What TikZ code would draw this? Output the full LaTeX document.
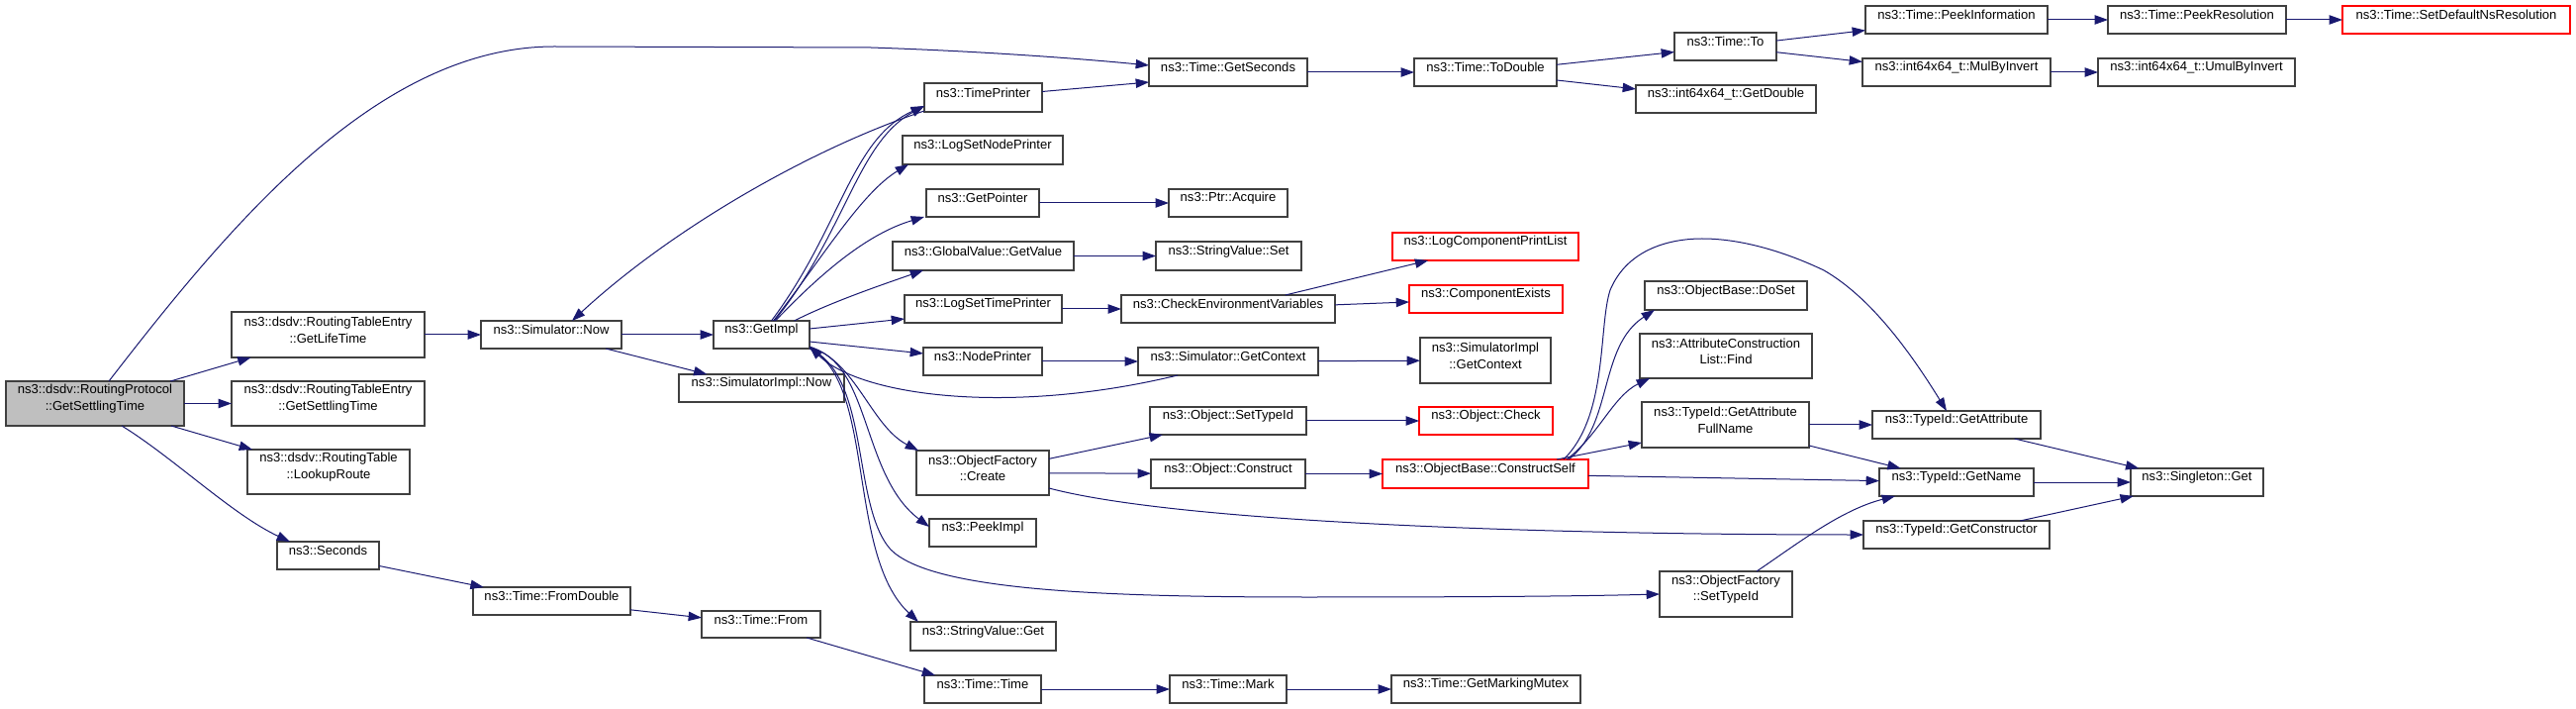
\documentclass[tikz,border=0pt]{standalone}
\usepackage{fontspec}
\setmainfont{Liberation Sans}
\usetikzlibrary{arrows.meta,fit,calc}
\definecolor{edgec}{HTML}{191970}
\definecolor{boxc}{HTML}{404040}
\definecolor{rootgray}{HTML}{BFBFBF}
\definecolor{redc}{HTML}{FF0000}
\newcommand\nbox[7][]{\node[box,#1,fit={(#3,#4)(#5,#6)}] (#2) {#7};}
\begin{document}
\begin{tikzpicture}[x=0.75pt,y=-0.75pt,
  box/.style={draw=boxc, line width=0.8pt, fill=white, inner sep=0pt, outer sep=0pt, align=center, font=\fontsize{9.8}{12.5}\selectfont},
  redbox/.style={draw=redc},
  rootbox/.style={fill=rootgray},
  edge/.style={draw=edgec, line width=0.75pt, -{Triangle[length=10pt,width=7pt]}}]
\useasboundingbox (0,0) rectangle (2603,716);
% nodes
\nbox[rootbox]{root}{6}{385}{186}{430}{ns3::dsdv::RoutingProtocol\\::GetSettlingTime}
\nbox{lifetime}{234}{315}{429}{361}{ns3::dsdv::RoutingTableEntry\\::GetLifeTime}
\nbox{rtesettle}{234}{385}{429}{430}{ns3::dsdv::RoutingTableEntry\\::GetSettlingTime}
\nbox{lookup}{250}{454}{414}{499}{ns3::dsdv::RoutingTable\\::LookupRoute}
\nbox{seconds}{280}{547}{383}{575}{ns3::Seconds}
\nbox{now}{486}{324}{628}{352}{ns3::Simulator::Now}
\nbox{getimpl}{721}{324}{818}{352}{ns3::GetImpl}
\nbox{simimplnow}{686}{378}{853}{406}{ns3::SimulatorImpl::Now}
\nbox{fromdouble}{478}{593}{637}{621}{ns3::Time::FromDouble}
\nbox{timefrom}{709}{617}{829}{644}{ns3::Time::From}
\nbox{getseconds}{1161}{59}{1321}{87}{ns3::Time::GetSeconds}
\nbox{timeprinter}{934}{84}{1053}{113}{ns3::TimePrinter}
\nbox{logsetnode}{912}{137}{1074}{166}{ns3::LogSetNodePrinter}
\nbox{getpointer}{936}{191}{1050}{219}{ns3::GetPointer}
\nbox{acquire}{1181}{191}{1301}{219}{ns3::Ptr::Acquire}
\nbox{getvalue}{902}{244}{1085}{273}{ns3::GlobalValue::GetValue}
\nbox{strset}{1168}{244}{1315}{273}{ns3::StringValue::Set}
\nbox{logsettime}{914}{298}{1073}{326}{ns3::LogSetTimePrinter}
\nbox{checkenv}{1133}{298}{1349}{326}{ns3::CheckEnvironmentVariables}
\nbox{nodeprinter}{933}{351}{1053}{379}{ns3::NodePrinter}
\nbox{simctx}{1150}{351}{1332}{379}{ns3::Simulator::GetContext}
\nbox{create}{926}{455}{1060}{500}{ns3::ObjectFactory\\::Create}
\nbox{peekimpl}{939}{524}{1047}{552}{ns3::PeekImpl}
\nbox{strget}{920}{628}{1067}{657}{ns3::StringValue::Get}
\nbox{timetime}{934}{682}{1052}{710}{ns3::Time::Time}
\nbox{objsettype}{1162}{411}{1320}{439}{ns3::Object::SetTypeId}
\nbox{objconstruct}{1163}{464}{1319}{493}{ns3::Object::Construct}
\nbox{timemark}{1182}{682}{1300}{710}{ns3::Time::Mark}
\nbox{todouble}{1429}{59}{1573}{87}{ns3::Time::ToDouble}
\nbox{timeto}{1692}{33}{1795}{61}{ns3::Time::To}
\nbox{getdouble}{1653}{86}{1835}{114}{ns3::int64x64\_t::GetDouble}
\nbox[redbox]{logcomplist}{1407}{235}{1595}{263}{ns3::LogComponentPrintList}
\nbox[redbox]{compexists}{1424}{288}{1579}{316}{ns3::ComponentExists}
\nbox{simimplctx}{1435}{341}{1567}{387}{ns3::SimulatorImpl\\::GetContext}
\nbox{doset}{1662}{284}{1826}{313}{ns3::ObjectBase::DoSet}
\nbox{find}{1657}{337}{1831}{382}{ns3::AttributeConstruction\\List::Find}
\nbox[redbox]{check}{1434}{411}{1569}{439}{ns3::Object::Check}
\nbox[redbox]{cself}{1397}{464}{1605}{493}{ns3::ObjectBase::ConstructSelf}
\nbox{fullname}{1659}{406}{1828}{452}{ns3::TypeId::GetAttribute\\FullName}
\nbox{ofsettype}{1677}{577}{1811}{623}{ns3::ObjectFactory\\::SetTypeId}
\nbox{mutex}{1406}{682}{1597}{710}{ns3::Time::GetMarkingMutex}
\nbox{peekinfo}{1885}{6}{2069}{34}{ns3::Time::PeekInformation}
\nbox{mulbyinv}{1882}{59}{2072}{87}{ns3::int64x64\_t::MulByInvert}
\nbox{peekres}{2130}{6}{2310}{34}{ns3::Time::PeekResolution}
\nbox{umul}{2120}{59}{2319}{87}{ns3::int64x64\_t::UmulByInvert}
\nbox[redbox]{setdef}{2367}{6}{2597}{34}{ns3::Time::SetDefaultNsResolution}
\nbox{getattr}{1892}{415}{2062}{443}{ns3::TypeId::GetAttribute}
\nbox{getname}{1899}{473}{2055}{501}{ns3::TypeId::GetName}
\nbox{getctor}{1883}{526}{2071}{554}{ns3::TypeId::GetConstructor}
\nbox{singleton}{2153}{473}{2287}{501}{ns3::Singleton::Get}
% edges from root
\draw[edge] ($(root.north)+(14,0)$) .. controls (230,230) and (380,47) .. (560,47) -- (880,48) .. controls (1000,52) and (1100,60) .. ($(getseconds.west)+(0,-7)$);
\draw[edge] (root) -- (lifetime);
\draw[edge] (root) -- (rtesettle);
\draw[edge] (root) -- (lookup);
\draw[edge] ($(root.south)+(27,0)$) .. controls (175,462) and (235,520) .. ($(seconds.north west)+(13,0)$);
\draw[edge] (lifetime) -- (now);
\draw[edge] (seconds) -- (fromdouble);
\draw[edge] (now) -- (getimpl);
\draw[edge] (now) -- (simimplnow);
\draw[edge] ($(timeprinter.south west)+(0,-1)$) .. controls (820,150) and (680,230) .. ($(now.north)+(21,0)$);
\draw[edge] ($(timeprinter.east)+(0,-6)$) -- ($(getseconds.west)+(0,10)$);
% edges from GetImpl
\draw[edge] ($(getimpl.north)+(10,0)$) .. controls (850,230) and (860,140) .. ($(timeprinter.south west)+(0,-6)$);
\draw[edge] ($(getimpl.north)+(13,0)$) .. controls (855,234) and (866,144) .. ($(timeprinter.south west)+(0,-6)$);
\draw[edge] ($(getimpl.north)+(12,0)$) .. controls (830,262) and (870,195) .. ($(logsetnode.south west)+(6,0)$);
\draw[edge] ($(getimpl.north)+(14,0)$) .. controls (835,270) and (880,235) .. ($(getpointer.south west)+(-2,0)$);
\draw[edge] ($(getimpl.north)+(33,0)$) .. controls (840,305) and (890,288) .. ($(getvalue.south west)+(31,0)$);
\draw[edge] ($(getimpl.east)+(0,-6)$) -- ($(logsettime.west)+(0,10)$);
\draw[edge] ($(getimpl.east)+(0,7)$) -- ($(nodeprinter.west)+(0,-8)$);
\draw[edge] ($(getimpl.south east)+(0,-2)$) .. controls (865,365) and (880,430) .. ($(create.north west)+(2,0)$);
\draw[edge] ($(getimpl.south east)+(0,-1)$) .. controls (880,365) and (870,480) .. ($(peekimpl.west)+(0,-6)$);
\draw[edge] ($(getimpl.south east)+(0,0)$) .. controls (880,380) and (860,510) .. (900,555) .. controls (940,595) and (1100,603) .. (1320,603) .. controls (1500,603) and (1600,602) .. (ofsettype.west);
\draw[edge] ($(getimpl.south east)+(0,0)$) .. controls (885,385) and (855,560) .. ($(strget.north west)+(8,0)$);
\draw[edge] ($(simctx.south west)+(40,0)$) .. controls (1020,420) and (870,400) .. ($(getimpl.south east)+(0,-2)$);
\draw[edge] (nodeprinter) -- (simctx);
\draw[edge] (simctx) -- (simimplctx);
\draw[edge] (logsettime) -- (checkenv);
\draw[edge] (checkenv) -- (logcomplist);
\draw[edge] (checkenv) -- (compexists);
\draw[edge] (getpointer) -- (acquire);
\draw[edge] (getvalue) -- (strset);
% time chain
\draw[edge] (getseconds) -- (todouble);
\draw[edge] (todouble) -- (timeto);
\draw[edge] (todouble) -- (getdouble);
\draw[edge] (timeto) -- (peekinfo);
\draw[edge] (timeto) -- (mulbyinv);
\draw[edge] (peekinfo) -- (peekres);
\draw[edge] (peekres) -- (setdef);
\draw[edge] (mulbyinv) -- (umul);
\draw[edge] (fromdouble) -- (timefrom);
\draw[edge] (timefrom) -- (timetime);
\draw[edge] (timetime) -- (timemark);
\draw[edge] (timemark) -- (mutex);
% object factory
\draw[edge] (create) -- (objsettype);
\draw[edge] (create) -- (objconstruct);
\draw[edge] ($(create.south east)+(0,-7)$) .. controls (1200,530) and (1600,540) .. (getctor.west);
\draw[edge] (objsettype) -- (check);
\draw[edge] (objconstruct) -- (cself);
\draw[edge] (cself) -- (getname);
\draw[edge] ($(cself.north)+(72,0)$) -- ($(fullname.south west)+(0,-5)$);
\draw[edge] ($(cself.north)+(82,0)$) .. controls (1615,440) and (1630,400) .. ($(find.south west)+(10,0)$);
\draw[edge] ($(cself.north)+(84,0)$) .. controls (1630,430) and (1615,350) .. ($(doset.south west)+(10,0)$);
\draw[edge] ($(cself.north)+(79,0)$) .. controls (1625,420) and (1615,330) .. (1627,293) .. controls (1645,250) and (1690,241) .. (1720,241) .. controls (1770,241) and (1820,262) .. (1843,273) .. controls (1890,300) and (1930,355) .. ($(getattr.north)+(-10,0)$);
\draw[edge] (fullname) -- (getattr);
\draw[edge] (fullname) -- (getname);
\draw[edge] ($(ofsettype.north)+(31,0)$) .. controls (1815,550) and (1860,515) .. ($(getname.south west)+(16,0)$);
\draw[edge] (getattr) -- (singleton);
\draw[edge] (getname) -- (singleton);
\draw[edge] (getctor) -- (singleton);
\end{tikzpicture}
\end{document}
